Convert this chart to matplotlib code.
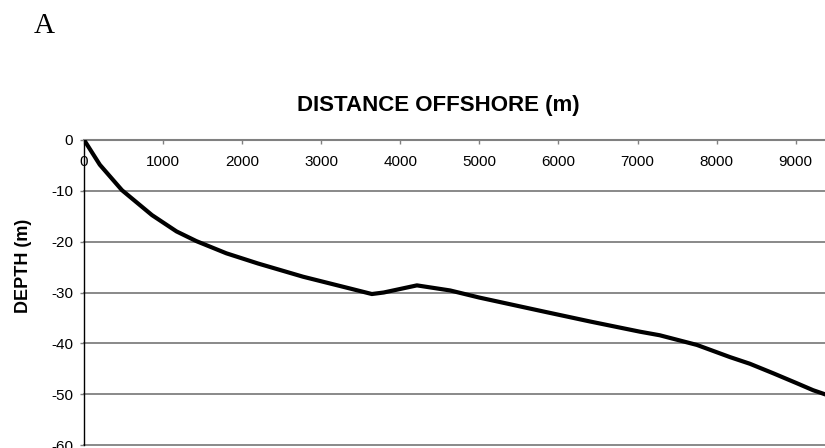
import matplotlib
matplotlib.use("Agg")
import matplotlib.pyplot as plt

# profile
distance = [0, 200, 480, 860, 1170, 1420, 1800, 2200, 2770, 3360, 3640, 3790,
            4210, 4630, 5000, 5830, 6400, 7030, 7280, 7750, 8170, 8420, 8720,
            9010, 9220, 9370]
depth = [0, -4.9, -9.9, -14.8, -18.0, -19.9, -22.3, -24.3, -26.9, -29.2, -30.3,
         -30.0, -28.6, -29.6, -31.0, -33.8, -35.7, -37.7, -38.4, -40.3, -42.7,
         -44.0, -45.9, -47.8, -49.2, -50.0]

x_ticks = [0, 1000, 2000, 3000, 4000, 5000, 6000, 7000, 8000, 9000]
y_ticks = [0, -10, -20, -30, -40, -50, -60]

plt.rcParams['font.family'] = ['Liberation Sans', 'DejaVu Sans']
plt.rcParams['axes.unicode_minus'] = False

fig = plt.figure(figsize=(8.25, 4.48), dpi=100)
ax = fig.add_axes([84 / 825, 1 - 445.2 / 448, (825 - 84) / 825, (445.2 - 139.8) / 448])

ax.plot(distance, depth, color='black', lw=3, solid_joinstyle='round', zorder=3)

ax.set_xlim(0, 9370)
ax.set_ylim(-60, 0)
ax.set_xticks(x_ticks)
ax.set_yticks(y_ticks)

# x axis sits at depth 0 (top of plot), labels under it
ax.spines['bottom'].set_position(('data', 0))
ax.spines['bottom'].set_color('#808080')
ax.spines['bottom'].set_linewidth(1.5)
ax.spines['top'].set_visible(False)
ax.spines['right'].set_visible(False)
ax.spines['left'].set_color('black')
ax.spines['left'].set_linewidth(1.0)

ax.tick_params(axis='x', direction='out', length=3, width=1, color='#808080',
               pad=8, labelsize=11)
ax.tick_params(axis='y', direction='out', length=3, width=1, color='#808080',
               pad=5, labelsize=11)

ax.yaxis.grid(True, color='#808080', lw=1.3)
ax.set_axisbelow(True)
for gl in ax.get_ygridlines():
    gl.set_clip_on(False)

fig.text(438 / 825, 1 - 105 / 448, 'DISTANCE OFFSHORE (m)', ha='center', va='center',
         fontsize=16, fontweight='bold')
fig.text(24 / 825, 1 - 266 / 448, 'DEPTH (m)', ha='center', va='center',
         rotation=90, fontsize=13, fontweight='bold')
fig.text(34 / 825, 1 - 33 / 448, 'A', ha='left', va='baseline',
         fontsize=21, family=['Liberation Serif', 'DejaVu Serif'])

fig.savefig('out.png', dpi=100)
